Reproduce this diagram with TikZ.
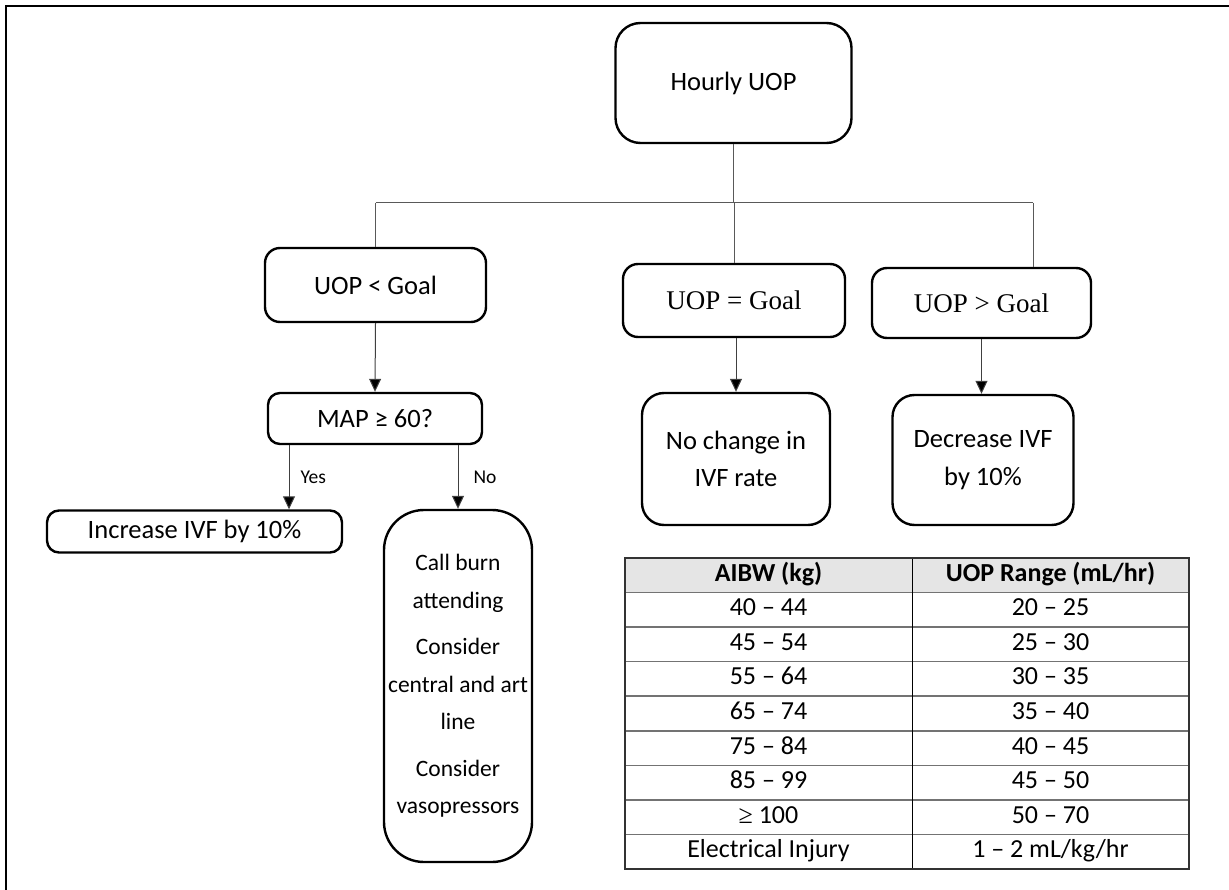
\documentclass[tikz,border=0pt]{standalone}
\usepackage{fontspec}
\setmainfont{Carlito}
\newfontfamily\serifrm{Liberation Serif}
\usetikzlibrary{arrows.meta,calc,positioning}
\tikzset{arr/.style={draw=black!75, line width=1pt, -{Triangle[length=13pt,width=12pt,fill=black]}},
  lnk/.style={draw=black!65, line width=1pt},
  box/.style={draw, line width=2.4pt, rounded corners=#1, align=center, inner sep=0pt,
    font=\fontsize{26.5}{37.5}\selectfont},
  box/.default=18pt,
  tnr/.style={font=\serifrm\fontsize{27}{32}\selectfont},
  lbl/.style={font=\fontsize{19.5}{22}\selectfont, inner sep=0pt},
  cell/.style={inner sep=0pt, font=\fontsize{26}{30}\selectfont}}

\begin{document}
\begin{tikzpicture}[x=1pt, y=-1pt]
  \useasboundingbox (0,0) rectangle (1229,890);
  % frame (only top and left edges are in view)
  \draw[line width=2.6pt] (6,890) -- (6,6) -- (1229,6);
  % flow boxes
  \node[box=25pt, minimum width=236pt, minimum height=120pt] (hourly) at (733.5,83) {Hourly UOP};
  \node[box=15pt, minimum width=221pt, minimum height=74pt] (lt) at (375.5,285) {UOP < Goal};
  \node[box=15pt, tnr, minimum width=222pt, minimum height=73pt] (eq) at (734,300.5) {UOP = Goal};
  \node[box=15pt, tnr, minimum width=219pt, minimum height=70pt] (gt) at (981.5,303) {UOP > Goal};
  \node[box=12pt, minimum width=214pt, minimum height=51pt] (map) at (375,418.5) {MAP ≥ 60?};
  \node[box=12pt, minimum width=295pt, minimum height=42pt] (inc) at (194.5,531.5) {Increase IVF by 10\%};
  \node[box=40pt, minimum width=148pt, minimum height=352pt, font=\fontsize{23.5}{37.5}\selectfont] (call) at (458,686)
    {Call burn\\attending\\[9pt]Consider\\central and art\\line\\[9pt]Consider\\vasopressors};
  \node[box=22pt, minimum width=188pt, minimum height=132pt] (nochg) at (736,459) {No change in\\IVF rate};
  \node[box=22pt, minimum width=181pt, minimum height=130pt] (decr) at (983,460) {Decrease IVF\\by 10\%};
  % branch bus
  \coordinate (busL) at (375.5,203);
  \coordinate (busR) at (1033,203);
  \draw[lnk] (busL) -- (busR);
  \draw[lnk] (hourly.south) -- (hourly.south |- busL);
  \draw[lnk] (busL) -- (lt.north);
  \draw[lnk] (eq.north |- busL) -- (eq.north);
  \draw[lnk] (busR) -- (busR |- gt.north);
  % arrows
  \draw[arr] (lt.south) -- (map.north);
  \draw[arr] ([xshift=-86pt]map.south) -- ([xshift=-86pt]map.south |- inc.north)
    node[midway, right=11pt, lbl] (yes) {Yes};
  \draw[arr] (map.south -| call.north) -- (call.north)
    node[midway, right=15pt, lbl] (no) {No};
  \draw[arr] (eq.south -| nochg.north) -- (nochg.north);
  \draw[arr] (gt.south) -- (gt.south |- decr.north);
  % goal table
  \fill[black!10] (625,558) rectangle (1189,592.56);
  \foreach \i in {1,...,8}{\draw[black!55, line width=1.5pt] (625,558+34.56*\i) -- (1189,558+34.56*\i);}
  \draw[black, line width=1pt] (912,558) -- (912,869);
  \draw[black!80, line width=1.5pt] (625,558) rectangle (1189,869);
  \foreach \i/\a/\b in {0/{\bfseries AIBW (kg)}/{\bfseries UOP Range (mL/hr)},
      1/{40 – 44}/{20 – 25}, 2/{45 – 54}/{25 – 30}, 3/{55 – 64}/{30 – 35},
      4/{65 – 74}/{35 – 40}, 5/{75 – 84}/{40 – 45}, 6/{85 – 99}/{45 – 50},
      7/{{\serifrm ≥} 100}/{50 – 70}, 8/{Electrical Injury}/{1 – 2 mL/kg/hr}}{
    \node[cell] (aibw\i) at (768.5,558+34.56*\i+17.28) {\strut\a};
    \node[cell] (uop\i) at (1050.5,558+34.56*\i+17.28) {\strut\b};
  }
\end{tikzpicture}
\end{document}
